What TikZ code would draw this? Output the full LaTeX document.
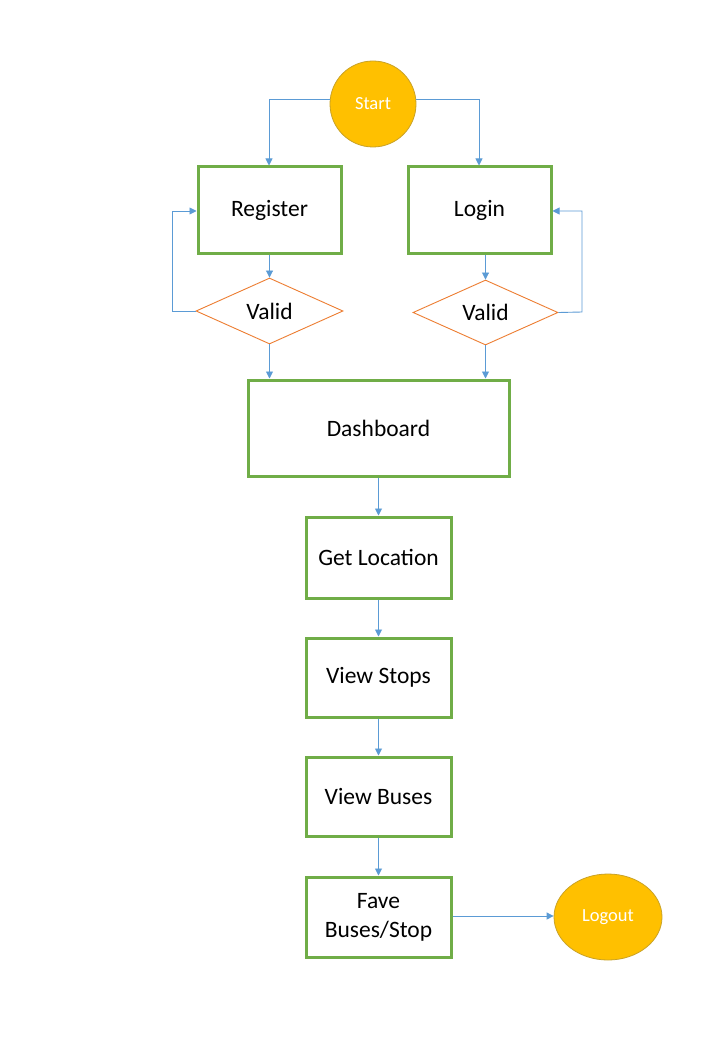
\documentclass[tikz,border=0pt]{standalone}
\usepackage{fontspec}
\setmainfont{Carlito}
\usetikzlibrary{shapes.geometric,arrows.meta}
\definecolor{boxgreen}{HTML}{70AD47}
\definecolor{dorange}{HTML}{ED7D31}
\definecolor{lblue}{HTML}{5B9BD5}
\definecolor{gold}{HTML}{FFC000}
\definecolor{goldline}{HTML}{C9A227}
\tikzset{
  procbox/.style={draw=boxgreen, line width=3pt, fill=white, inner sep=0pt, align=center, font=\fontsize{23.5}{29}\selectfont},
  decide/.style={diamond, draw=dorange, line width=0.9pt, aspect=2.2, inner sep=0pt, font=\fontsize{23.5}{26}\selectfont},
  term/.style={ellipse, fill=gold, draw=goldline, line width=0.8pt, inner sep=0pt, text=white, font=\fontsize{18.5}{20}\selectfont},
  flow/.style={draw=lblue, line width=0.9pt, -{Triangle[length=7pt,width=7pt]}},
}
\begin{document}
\begin{tikzpicture}[x=1pt,y=-1pt]
\useasboundingbox (0,0) rectangle (720,1040);
\fill[white] (0,0) rectangle (720,1040);
% nodes
\node[term, minimum width=86pt, minimum height=86pt] (start) at (373,104) {Start};
\node[procbox, minimum width=143pt, minimum height=87pt] (reg) at (269.5,210.5) {Register};
\node[procbox, minimum width=143pt, minimum height=87pt] (login) at (479.5,210.5) {Login};
\node[decide, minimum width=147pt, minimum height=66pt] (v1) at (269.5,311) {Valid};
\node[decide, minimum width=145pt, minimum height=65pt] (v2) at (485.5,312.5) {Valid};
\node[procbox, minimum width=261pt, minimum height=96pt] (dash) at (378.5,428) {Dashboard};
\node[procbox, minimum width=145pt, minimum height=81pt] (loc) at (378.5,557.5) {Get Location};
\node[procbox, minimum width=145pt, minimum height=79pt] (stops) at (378.5,677.5) {View Stops};
\node[procbox, minimum width=145pt, minimum height=79pt] (buses) at (378.5,796.5) {View Buses};
\node[procbox, minimum width=145pt, minimum height=80pt] (fave) at (378.5,917) {Fave\\Buses/Stop};
\node[term, minimum width=108pt, minimum height=86pt] (logout) at (608,917) {Logout};
% coordinates
\coordinate (sl) at (269,99);
\coordinate (sr) at (479,99);
\coordinate (l1) at (172,311);
\coordinate (l2) at (172,211);
\coordinate (r1) at (582,312);
\coordinate (r2) at (582,211);
% connectors
\draw[flow] (start.west |- sl) -- (sl) -- (reg.north -| sl);
\draw[flow] (start.east |- sr) -- (sr) -- (login.north -| sr);
\draw[flow] (reg.south -| v1.north) -- (v1.north);
\draw[flow] (login.south -| v2.north) -- (v2.north);
\draw[flow] (v1.west) -- (l1) -- (l2) -- (reg.west |- l2);
\draw[flow] (v2.east) -- (r1) -- (r2) -- (login.east |- r2);
\draw[flow] (v1.south) -- (dash.north -| v1.south);
\draw[flow] (v2.south) -- (dash.north -| v2.south);
\draw[flow] (dash.south) -- (loc.north);
\draw[flow] (loc.south) -- (stops.north);
\draw[flow] (stops.south) -- (buses.north);
\draw[flow] (buses.south) -- (fave.north);
\draw[flow] (fave.east |- 0,916) -- (logout.west |- 0,916);
\end{tikzpicture}
\end{document}
